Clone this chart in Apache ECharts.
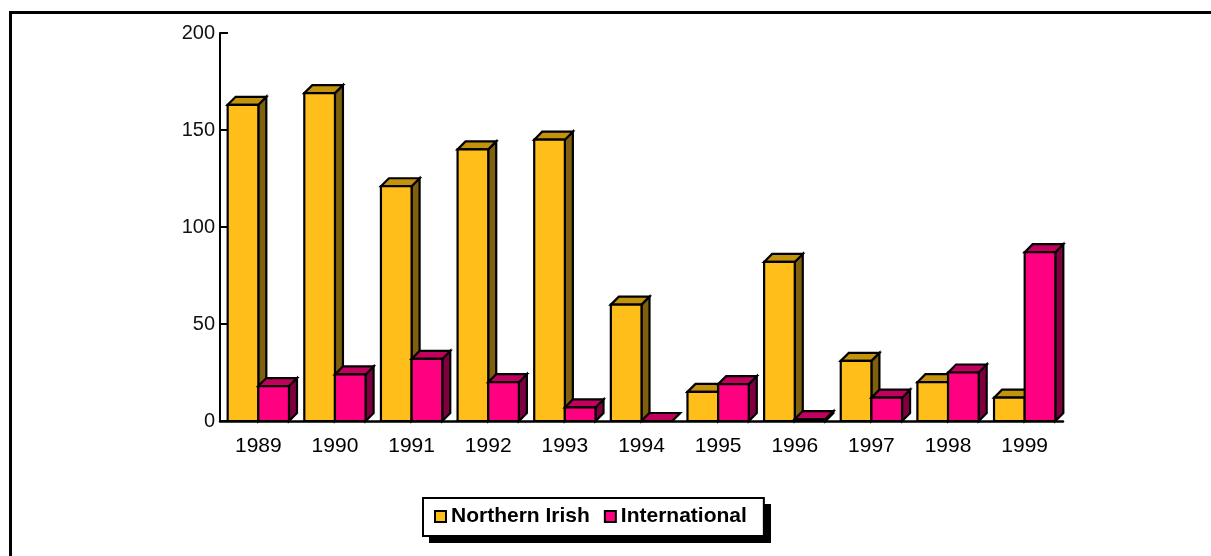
<!DOCTYPE html>
<html>
<head>
<meta charset="utf-8">
<script src="https://cdn.jsdelivr.net/npm/echarts@6/dist/echarts.min.js"></script>
<style>
  html, body { margin: 0; padding: 0; background: #fff; }
  #chart { width: 1211px; height: 556px; }
</style>
</head>
<body>
<div id="chart"></div>
<script>
const years = ['1989', '1990', '1991', '1992', '1993', '1994', '1995', '1996', '1997', '1998', '1999']
const northernIrish = [163, 169, 121, 140, 145, 60, 15, 82, 31, 20, 12]
const international = [18, 24, 32, 20, 7, 0, 19, 1, 12, 25, 87]
const yTicks = [0, 50, 100, 150, 200]

// front / top / side shades for the fake 3d boxes
const shades = {
  'Northern Irish': ['#FFBE1A', '#C3930E', '#7F600E'],
  'International': ['#FF0080', '#C2005E', '#80003F']
}
const DEPTH = 8

function boxRenderer(side) {
  return function (params, api) {
    const idx = api.value(0)
    const val = api.value(1)
    const top = api.coord([idx, val])
    const base = api.coord([idx, 0])
    const w = api.size([1, 0])[0] * 0.4
    const x0 = side < 0 ? top[0] - w : top[0]
    const x1 = x0 + w
    const y0 = base[1]
    const y1 = top[1]
    const c = shades[params.seriesName]
    const stroke = {stroke: '#000', lineWidth: 2.2, lineJoin: 'miter'}
    return {
      type: 'group',
      children: [
        {
          type: 'polygon',
          shape: {points: [[x1, y1], [x1 + DEPTH, y1 - DEPTH], [x1 + DEPTH, y0 - DEPTH], [x1, y0]]},
          style: Object.assign({fill: c[2]}, stroke)
        },
        {
          type: 'polygon',
          shape: {points: [[x0, y1], [x0 + DEPTH, y1 - DEPTH], [x1 + DEPTH, y1 - DEPTH], [x1, y1]]},
          style: Object.assign({fill: c[1]}, stroke)
        },
        {
          type: 'polygon',
          shape: {points: [[x0, y0], [x0, y1], [x1, y1], [x1, y0]]},
          style: Object.assign({fill: c[0]}, stroke)
        }
      ]
    }
  }
}

const chart = echarts.init(document.getElementById('chart'))
chart.setOption({
  animation: false,
  backgroundColor: '#fff',
  graphic: [
    {
      type: 'rect',
      z: 0,
      shape: {x: 10.5, y: 12.5, width: 1400, height: 800},
      style: {fill: 'none', stroke: '#000', lineWidth: 3}
    },
    {
      // drop shadow behind the legend box
      type: 'rect',
      z: 0,
      shape: {x: 429, y: 504, width: 342, height: 39},
      style: {fill: '#000'}
    }
  ],
  grid: {left: 220, right: 148, top: 33, bottom: 135, containLabel: false},
  legend: {
    left: 423,
    top: 498,
    z: 10,
    orient: 'horizontal',
    padding: [8, 17, 9, 11],
    itemWidth: 11,
    itemHeight: 11,
    itemGap: 14,
    backgroundColor: '#fff',
    borderColor: '#000',
    borderWidth: 2,
    borderRadius: 0,
    textStyle: {fontFamily: 'Liberation Sans', fontWeight: 'bold', fontSize: 21, color: '#000'},
    data: [
      {name: 'Northern Irish', icon: 'rect', itemStyle: {color: shades['Northern Irish'][0], borderColor: '#000', borderWidth: 2}},
      {name: 'International', icon: 'rect', itemStyle: {color: shades['International'][0], borderColor: '#000', borderWidth: 2}}
    ]
  },
  xAxis: {
    type: 'category',
    data: years,
    axisLine: {lineStyle: {color: '#000', width: 2.5}},
    axisTick: {show: false},
    axisLabel: {fontFamily: 'Liberation Sans', fontSize: 21, color: '#000', margin: 15}
  },
  yAxis: {
    type: 'value',
    min: yTicks[0],
    max: yTicks[yTicks.length - 1],
    interval: 50,
    axisLine: {show: true, lineStyle: {color: '#000', width: 2}},
    axisTick: {show: true, inside: true, length: 8, lineStyle: {color: '#000', width: 2}},
    axisLabel: {fontFamily: 'Liberation Sans, Arial, sans-serif', fontSize: 20, color: '#111', margin: 5},
    splitLine: {show: false}
  },
  series: [
    {
      name: 'Northern Irish',
      type: 'custom',
      itemStyle: {color: shades['Northern Irish'][0]},
      renderItem: boxRenderer(-1),
      data: northernIrish.map((v, i) => [i, v])
    },
    {
      name: 'International',
      type: 'custom',
      itemStyle: {color: shades['International'][0]},
      renderItem: boxRenderer(1),
      data: international.map((v, i) => [i, v])
    }
  ]
})
</script>
</body>
</html>
